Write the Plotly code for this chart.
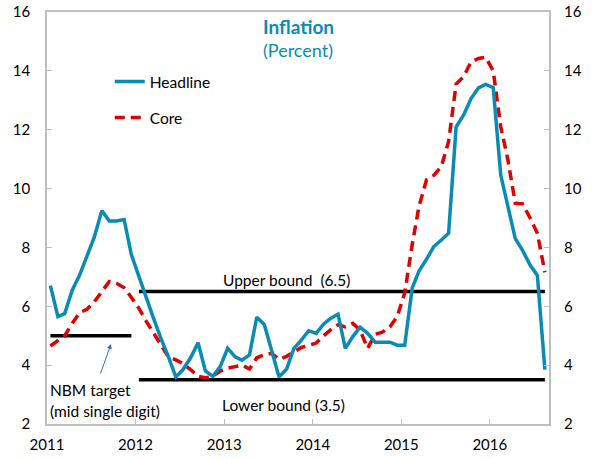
import pandas as pd
import plotly.graph_objects as go

# Monthly data, Jan 2011 - Aug 2016
start_month = "2011-01-01"
n_months = 68
headline = [6.7, 5.65, 5.75, 6.55, 7.05, 7.7, 8.35, 9.25, 8.9, 8.9, 8.95, 7.75,
            7.0, 6.3, 5.6, 4.9, 4.3, 3.6, 3.85, 4.25, 4.76, 3.8, 3.62, 3.95,
            4.57, 4.28, 4.17, 4.35, 5.63, 5.38, 4.45, 3.6, 3.87, 4.57, 4.85, 5.17,
            5.08, 5.4, 5.59, 5.73, 4.57, 4.97, 5.29, 5.08, 4.78, 4.78, 4.78, 4.68,
            4.68, 6.62, 7.2, 7.6, 8.03, 8.25, 8.48, 12.1, 12.5, 13.05, 13.42, 13.54,
            13.43, 10.46, 9.4, 8.3, 7.9, 7.4, 7.05, 3.85]
core = [4.65, 4.82, 5.0, 5.42, 5.78, 5.9, 6.15, 6.5, 6.84, 6.78, 6.63, 6.3,
        5.93, 5.48, 5.1, 4.72, 4.29, 4.18, 4.05, 3.85, 3.62, 3.57, 3.62, 3.8,
        3.9, 3.95, 4.0, 3.87, 4.25, 4.35, 4.4, 4.2, 4.3, 4.45, 4.6, 4.67,
        4.75, 5.0, 5.2, 5.37, 5.3, 5.42, 5.19, 4.57, 5.05, 5.12, 5.3, 5.65,
        6.45, 8.1, 9.4, 10.3, 10.45, 10.75, 11.6, 13.55, 13.8, 14.3, 14.42, 14.46,
        14.0, 12.1, 11.0, 9.5, 9.48, 9.0, 8.48, 7.15]
nbm_target = 5.0
upper_bound = 6.5
lower_bound = 3.5
year_ticks = ["2011", "2012", "2013", "2014", "2015", "2016"]

dates = pd.date_range(start_month, periods=n_months, freq="MS") + pd.Timedelta(days=14)

BLUE = "#0A8BB5"
RED = "#E00000"
FONT = "Lato"

fig = go.Figure()
# reference lines
fig.add_trace(go.Scatter(x=[dates[0], dates[11]], y=[nbm_target, nbm_target], mode="lines",
                         line=dict(color="black", width=3.5), showlegend=False, hoverinfo="skip"))
fig.add_trace(go.Scatter(x=[dates[12], dates[-1]], y=[upper_bound, upper_bound], mode="lines",
                         line=dict(color="black", width=3.5), showlegend=False, hoverinfo="skip"))
fig.add_trace(go.Scatter(x=[dates[12], dates[-1]], y=[lower_bound, lower_bound], mode="lines",
                         line=dict(color="black", width=3.5), showlegend=False, hoverinfo="skip"))
fig.add_trace(go.Scatter(x=dates, y=core, mode="lines", name="Core",
                         line=dict(color=RED, width=3.5, dash="10px,6px"), legend="legend2"))
fig.add_trace(go.Scatter(x=dates, y=headline, mode="lines", name="Headline",
                         line=dict(color=BLUE, width=3.5), legend="legend"))
# invisible trace for right axis
fig.add_trace(go.Scatter(x=[dates[0]], y=[None], yaxis="y2", showlegend=False, hoverinfo="skip"))

axis_grey = "#BFBFBF"
fig.update_layout(
    width=592, height=459,
    margin=dict(l=47, r=43, t=12, b=35, autoexpand=False),
    paper_bgcolor="white", plot_bgcolor="white",
    font=dict(family=FONT, size=15, color="black"),
    xaxis=dict(type="date", range=["2011-01-01", "2016-09-01"],
               tickvals=[f"{y}-01-01" for y in year_ticks], ticktext=year_ticks,
               showgrid=False, zeroline=False, showline=True, linecolor=axis_grey, linewidth=1.5,
               mirror=True, ticks="inside", ticklen=5, tickcolor=axis_grey,
               tickfont=dict(size=15), ticklabelstandoff=6),
    yaxis=dict(range=[2, 16], dtick=2, showgrid=False, zeroline=False, showline=True,
               linecolor=axis_grey, linewidth=1.5, mirror="ticks", ticks="inside", ticklen=5,
               tickcolor=axis_grey, tickfont=dict(size=15), ticklabelstandoff=12),
    yaxis2=dict(range=[2, 16], dtick=2, overlaying="y", side="right", showgrid=False,
                zeroline=False, showline=False, ticks="", tickfont=dict(size=15),
                ticklabelstandoff=14),
    legend=dict(x=0.125, y=0.83, xanchor="left", yanchor="middle", bgcolor="rgba(0,0,0,0)",
                font=dict(size=15.5)),
    legend2=dict(x=0.125, y=0.743, xanchor="left", yanchor="middle", bgcolor="rgba(0,0,0,0)",
                 font=dict(size=15.5)),
    showlegend=True,
)

annotations = [
    dict(text="<b>Inflation</b>", xref="paper", yref="paper", x=0.5, y=0.9636,
         xanchor="center", yanchor="middle", showarrow=False, font=dict(size=19, color=BLUE)),
    dict(text="(Percent)", xref="paper", yref="paper", x=0.5, y=0.908,
         xanchor="center", yanchor="middle", showarrow=False, font=dict(size=18, color=BLUE)),
    dict(text="Upper bound  (6.5)", xref="paper", yref="y", x=0.478, y=upper_bound,
         xanchor="center", yanchor="bottom", yshift=1, showarrow=False, font=dict(size=15.5)),
    dict(text="Lower bound (3.5)", xref="paper", yref="y", x=0.471, y=2.65,
         xanchor="center", yanchor="middle", showarrow=False, font=dict(size=15.5)),
    dict(text="NBM target", xref="paper", yref="y", x=0.002, y=3.16, xanchor="left",
         yanchor="middle", showarrow=False, font=dict(size=15.5)),
    dict(text="(mid single digit)", xref="paper", yref="y", x=0.002, y=2.44, xanchor="left",
         yanchor="middle", showarrow=False, font=dict(size=15.5)),
    dict(text="", xref="paper", yref="y", x=0.1275, y=4.72, ax=-11, ay=31,
         showarrow=True, arrowhead=2, arrowsize=1, arrowwidth=1, arrowcolor="#2E75B6"),
]
fig.update_layout(annotations=annotations)

fig.write_html("out.html", config={"displayModeBar": False},
               post_script="document.body.style.margin='0';")
